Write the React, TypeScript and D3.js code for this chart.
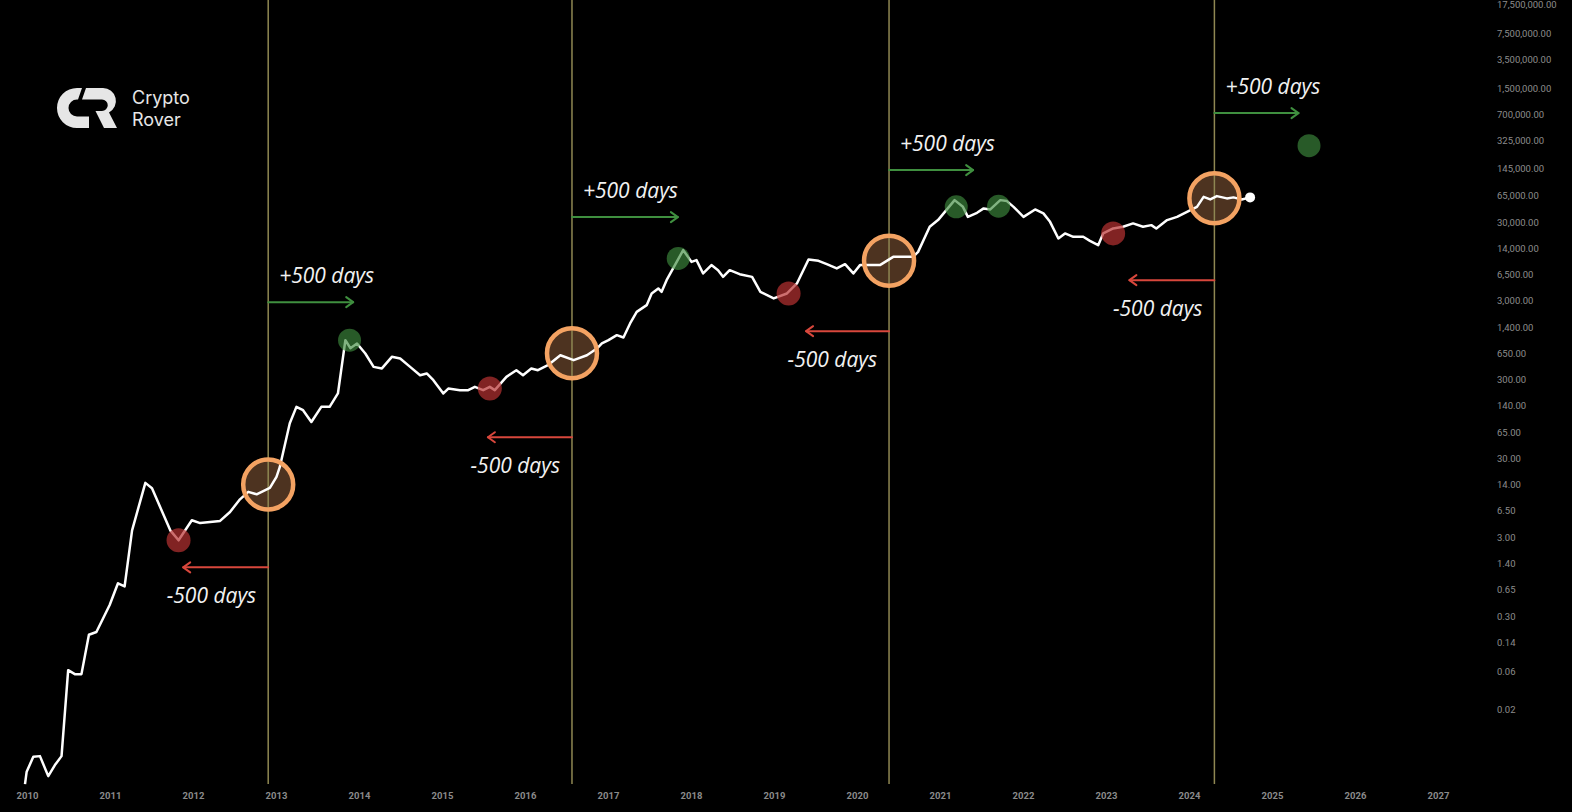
import React from "react";
import * as d3 from "d3";

const W = 1572;
const H = 812;

// BTC price path (decimal year, USD)
const years = [
  2009.97, 2009.99, 2010.07, 2010.15, 2010.25, 2010.33, 2010.41, 2010.49, 2010.57, 2010.65,
  2010.74, 2010.83, 2010.99, 2011.09, 2011.17, 2011.26, 2011.42, 2011.5, 2011.72, 2011.82,
  2011.98, 2012.08, 2012.32, 2012.44, 2012.56, 2012.66, 2012.76, 2012.92, 2013.0, 2013.04,
  2013.16, 2013.24, 2013.32, 2013.42, 2013.54, 2013.64, 2013.74, 2013.83, 2013.89, 2013.97,
  2014.07, 2014.17, 2014.27, 2014.39, 2014.49, 2014.61, 2014.73, 2014.81, 2014.89, 2015.01,
  2015.07, 2015.21, 2015.31, 2015.39, 2015.49, 2015.57, 2015.63, 2015.77, 2015.89, 2015.97,
  2016.07, 2016.15, 2016.27, 2016.42, 2016.58, 2016.74, 2016.86, 2016.92, 2017.0, 2017.1,
  2017.18, 2017.26, 2017.34, 2017.46, 2017.52, 2017.6, 2017.64, 2017.7, 2017.8, 2017.9,
  2018.0, 2018.06, 2018.14, 2018.24, 2018.32, 2018.38, 2018.46, 2018.58, 2018.73, 2018.83,
  2018.99, 2019.15, 2019.27, 2019.41, 2019.53, 2019.63, 2019.75, 2019.85, 2019.95, 2020.03,
  2020.19, 2020.27, 2020.43, 2020.67, 2020.73, 2020.87, 2020.97, 2021.07, 2021.17, 2021.27,
  2021.33, 2021.44, 2021.52, 2021.6, 2021.72, 2021.8, 2021.88, 2022.0, 2022.14, 2022.24,
  2022.32, 2022.42, 2022.5, 2022.6, 2022.72, 2022.8, 2022.9, 2022.96, 2023.08, 2023.2,
  2023.32, 2023.44, 2023.54, 2023.6, 2023.73, 2023.85, 2023.97, 2024.09, 2024.17, 2024.25,
  2024.33, 2024.45, 2024.53, 2024.63, 2024.73,
];

const prices = [
  0.0023, 0.0033, 0.0051, 0.0052, 0.0029, 0.004, 0.0052, 0.064, 0.057, 0.057,
  0.18, 0.195, 0.43, 0.81, 0.74, 3.8, 15.2, 13.0, 3.8, 2.84,
  5.1, 4.7, 5.0, 6.5, 9.4, 11.7, 10.9, 13.1, 18.1, 24.2,
  86.7, 140, 127, 90, 140, 140, 207, 982, 776, 891,
  665, 450, 430, 603, 574, 450, 353, 371, 305, 207,
  239, 228, 228, 251, 228, 251, 228, 336, 408, 353,
  430, 408, 472, 632, 547, 632, 769, 891, 982, 1135,
  1062, 1600, 2244, 2729, 3837, 4446, 4027, 5662, 8790, 13614,
  9661, 10160, 6887, 8790, 7586, 6237, 7586, 6745, 6237, 4027,
  3319, 3837, 5140, 10375, 9955, 9036, 7980, 9036, 6887, 8790,
  8790, 8790, 11194, 11194, 12942, 26915, 32734, 43752, 58614, 48195,
  35975, 40458, 46026, 44668, 58614, 57016, 48195, 35975, 44668, 39811,
  31117, 19143, 22182, 20091, 20091, 17865, 15740, 22182, 25645, 26915,
  29717, 26915, 28249, 25645, 32734, 35975, 41687, 48195, 64565, 59841,
  65917, 61660, 63533, 59841, 63533,
];

// Halvings
const halvingYears = [2012.9, 2016.56, 2020.38, 2024.3];
const halvingPrices = [14.5, 670, 10000, 62000];

// Cycle tops (+500 days) and bottoms (-500 days)
const peakYears = [2013.88, 2017.84, 2021.19, 2021.7, 2025.44];
const peakPrices = [982, 10690, 48200, 49200, 288000];
const bottomYears = [2011.82, 2015.57, 2019.17, 2023.08];
const bottomPrices = [2.84, 239, 3840, 22200];

// Arrow spans (days) and price levels the arrows sit at
const forwardDays = [374, 466, 370, 370];
const forwardLevels = [2980, 35700, 141000, 745000];
const backwardDays = [374, 370, 365, 374];
const backwardLevels = [1.29, 57.7, 1276, 5662];
const forwardLabel = "+500 days";
const backwardLabel = "-500 days";

const yearTicks = d3.range(2010, 2028);
const priceTicks = [
  17500000, 7500000, 3500000, 1500000, 700000, 325000, 145000, 65000, 30000, 14000,
  6500, 3000, 1400, 650, 300, 140, 65, 30, 14, 6.5, 3, 1.4, 0.65, 0.3, 0.14, 0.06, 0.02,
];

const x = d3.scaleLinear().domain([2010, 2027]).range([27.5, 1438.5]);
const y = d3.scaleLog().domain([0.02, 17500000]).range([710, 5]);
const fmt = d3.format(",.2f");

const priceLine = d3
  .line<number>()
  .x((_, i) => x(years[i]))
  .y((p) => y(p))(prices) as string;

const HALVING = "#8f8752";
const GREEN = "#3f8f3f";
const RED = "#d8473c";
const ORANGE = "#f3a262";

function Arrow({ x0, x1, yv, color }: { x0: number; x1: number; yv: number; color: string }) {
  const dir = x1 > x0 ? 1 : -1;
  return (
    <g stroke={color} strokeWidth={2} fill="none" strokeLinecap="round" strokeLinejoin="round">
      <line x1={x0} y1={yv} x2={x1} y2={yv} />
      <polyline points={`${x1 - dir * 7},${yv - 5} ${x1},${yv} ${x1 - dir * 7},${yv + 5}`} />
    </g>
  );
}

function Logo() {
  return (
    <g>
      <g transform="translate(57,88)" fill="#e6e6e6">
        <path d="M25 0 L20 0 A20 20 0 0 0 20 40 L32 40 L32 28.5 L20 28.5 A8.5 8.5 0 0 1 20 11.5 L21 11.5 Z" />
        <path d="M29 0 L46 0 A13 13 0 0 1 52 24.5 L60 40 L47 40 L38.5 23 L45 23 A5.75 5.75 0 0 0 45 11.5 L25 11.5 Z" />
      </g>
      <g fontFamily="Inter, Roboto, sans-serif" fontSize={18} fill="#e6e6e6">
        <text x={132} y={103.5}>Crypto</text>
        <text x={132} y={126}>Rover</text>
      </g>
    </g>
  );
}

export default function App() {
  const annFont = { fontFamily: "'Open Sans', sans-serif", fontStyle: "italic", fontSize: 21 };
  return (
    <svg
      width={W}
      height={H}
      style={{ position: "fixed", left: 0, top: 0, display: "block", background: "#000" }}
    >
      <rect width={W} height={H} fill="#000" />

      {/* halving circle fills */}
      {halvingYears.map((h, i) => (
        <circle key={`f${i}`} cx={x(h)} cy={y(halvingPrices[i])} r={25} fill="#4d3320" />
      ))}

      {/* halving verticals */}
      {halvingYears.map((h, i) => (
        <line key={`v${i}`} x1={x(h)} x2={x(h)} y1={0} y2={784} stroke={HALVING} strokeWidth={1.5} />
      ))}

      {/* price path */}
      <path d={priceLine} fill="none" stroke="#fff" strokeWidth={2.5} strokeLinejoin="round" />
      <circle cx={x(years[years.length - 1])} cy={y(prices[prices.length - 1])} r={5} fill="#fff" />

      {/* tops and bottoms */}
      {peakYears.map((t, i) => (
        <circle key={`p${i}`} cx={x(t)} cy={y(peakPrices[i])} r={11.5} fill="#3d8b3d" fillOpacity={0.65} />
      ))}
      {bottomYears.map((t, i) => (
        <circle key={`b${i}`} cx={x(t)} cy={y(bottomPrices[i])} r={12} fill="#b83232" fillOpacity={0.7} />
      ))}

      {/* halving rings */}
      {halvingYears.map((h, i) => (
        <circle key={`r${i}`} cx={x(h)} cy={y(halvingPrices[i])} r={25} fill="none" stroke={ORANGE} strokeWidth={4.5} />
      ))}

      {/* +/- 500 day arrows and labels */}
      {halvingYears.map((h, i) => {
        const hx = x(h);
        const fy = y(forwardLevels[i]);
        const by = y(backwardLevels[i]);
        return (
          <g key={`a${i}`}>
            <Arrow x0={hx} x1={x(h + forwardDays[i] / 365.25)} yv={fy} color={GREEN} />
            <Arrow x0={hx} x1={x(h - backwardDays[i] / 365.25)} yv={by} color={RED} />
            <text x={hx + 11} y={fy - 19.5} fill="#f2f2f2" style={annFont}>
              {forwardLabel}
            </text>
            <text x={hx - 12} y={by + 36} fill="#f2f2f2" textAnchor="end" style={annFont}>
              {backwardLabel}
            </text>
          </g>
        );
      })}

      {/* price axis */}
      <g fontFamily="Roboto, sans-serif" fontSize={9.5} fill="#8c8c8c">
        {priceTicks.map((v) => (
          <text key={v} x={1497} y={y(v)} dominantBaseline="middle">
            {fmt(v)}
          </text>
        ))}
      </g>

      {/* year axis */}
      <g fontFamily="Roboto, sans-serif" fontSize={9.5} fontWeight={700} fill="#8a8a8a">
        {yearTicks.map((t) => (
          <text key={t} x={x(t)} y={796} textAnchor="middle" dominantBaseline="middle">
            {t}
          </text>
        ))}
      </g>

      <Logo />
    </svg>
  );
}
